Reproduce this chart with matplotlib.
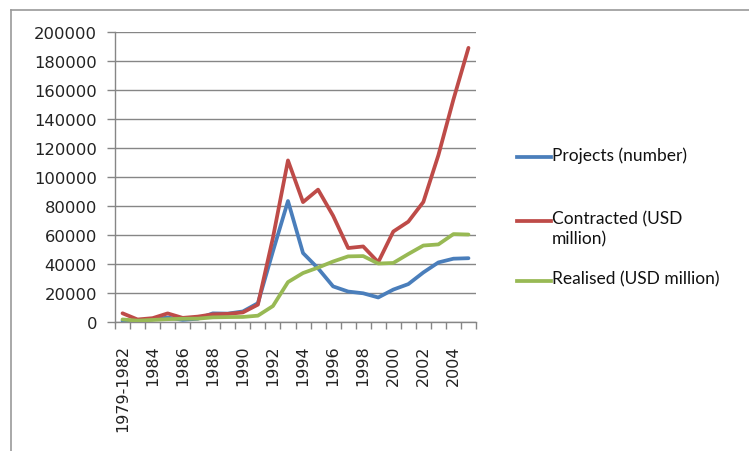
import matplotlib
matplotlib.use("Agg")
import matplotlib.pyplot as plt
from matplotlib.lines import Line2D
import numpy as np

categories = ["1979-1982"] + [str(y) for y in range(1983, 2006)]
projects = [922, 470, 1856, 3073, 1498, 2233, 5945, 5779, 7273, 12978, 48764, 83437,
            47549, 37011, 24556, 21001, 19799, 16918, 22347, 26140, 34171, 41081, 43664, 44001]
contracted = [6010, 1732, 2651, 5932, 2834, 3709, 5297, 5600, 6596, 11977, 58124, 111436,
              82680, 91282, 73276, 51004, 52102, 41223, 62380, 69195, 82768, 115070, 153479, 189065]
realised = [1769, 916, 1419, 1956, 2244, 2314, 3194, 3392, 3487, 4366, 11008, 27515,
            33767, 37521, 41726, 45257, 45463, 40319, 40715, 46878, 52743, 53505, 60630, 60325]
series_names = ["Projects (number)", "Contracted (USD\nmillion)", "Realised (USD million)"]
colors = ["#4A7EBB", "#BE4B48", "#98B954"]
yticks = list(range(0, 200001, 20000))

W, H = 749, 452
fig = plt.figure(figsize=(W / 100, H / 100), dpi=100)
ax = fig.add_axes([115 / W, 1 - 323 / H, (476 - 115) / W, (323 - 33) / H])

x = np.arange(len(categories))
for vals, c in zip([projects, contracted, realised], colors):
    ax.plot(x, vals, color=c, lw=2.7, solid_joinstyle="round", solid_capstyle="round", zorder=3)

ax.set_xlim(-0.5, len(categories) - 0.5)
ax.set_ylim(0, 200000)
ax.set_yticks(yticks)
ax.set_yticklabels([str(v) for v in yticks], fontsize=11.8, family="DejaVu Sans", color="#222222")
ax.set_xticks(x[::2])
ax.set_xticklabels(categories[::2], rotation=90, fontsize=11.5, family="DejaVu Sans", color="#222222")
ax.set_xticks(np.arange(-0.5, len(categories), 1), minor=True)
ax.tick_params(axis="x", which="major", length=0, pad=16)
ax.tick_params(axis="x", which="minor", length=5, color="#868686", width=1)
ax.tick_params(axis="y", length=6, color="#868686", width=1, pad=7)

ax.grid(axis="y", color="#868686", lw=1)
ax.set_axisbelow(True)
for s in ["top", "right"]:
    ax.spines[s].set_visible(False)
for s in ["left", "bottom"]:
    ax.spines[s].set_color("#868686")
    ax.spines[s].set_linewidth(1)

# legend drawn manually
leg_y = [158, 222, 282]
for name, c, yy in zip(series_names, colors, leg_y):
    fy = 1 - yy / H
    fig.add_artist(Line2D([517 / W, 551 / W], [fy, fy], color=c, lw=2.7, transform=fig.transFigure))
    fig.text(552 / W, 1 - (yy - 11) / H, name, family="Lato", fontsize=12.5, va="top", ha="left",
             color="#111111", linespacing=1.3)

# chart border (top and left)
fig.add_artist(Line2D([11 / W, 11 / W], [0, 1 - 11 / H], color="#9a9a9a", lw=1.2, transform=fig.transFigure))
fig.add_artist(Line2D([11 / W, 1], [1 - 11 / H, 1 - 11 / H], color="#9a9a9a", lw=1.2, transform=fig.transFigure))

fig.savefig("out.png", dpi=100)
